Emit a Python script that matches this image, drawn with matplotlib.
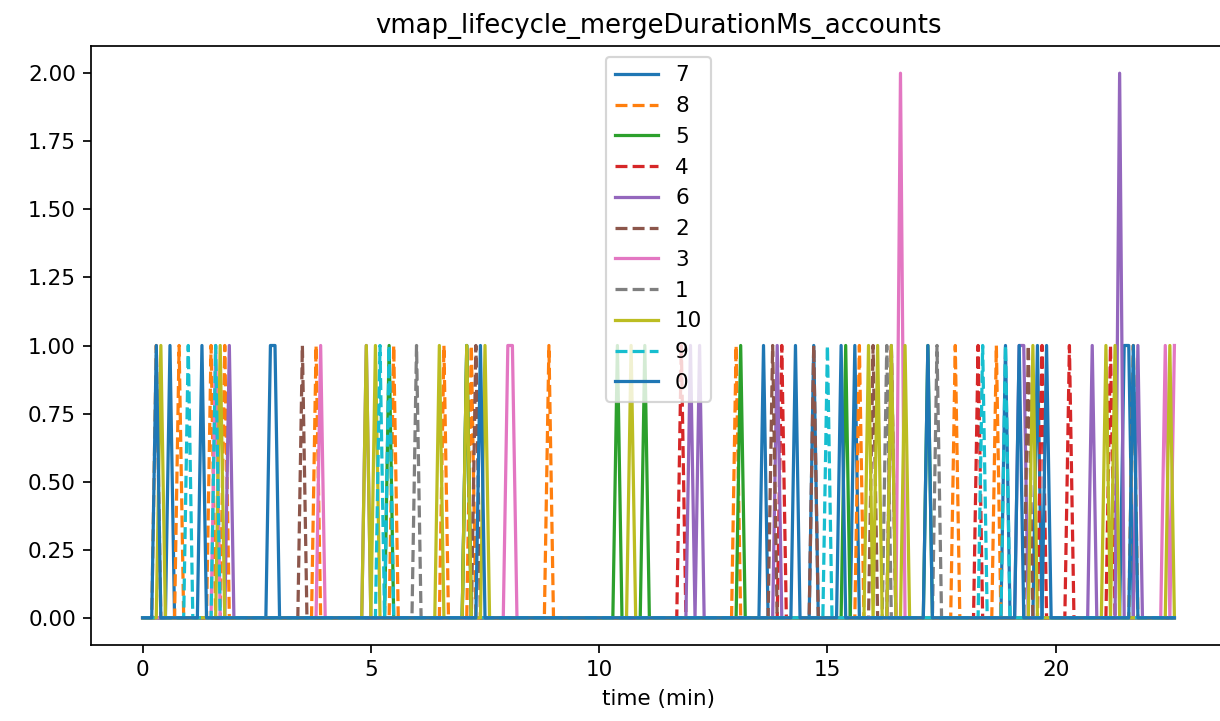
import numpy as np
import matplotlib
matplotlib.use("Agg")
import matplotlib.pyplot as plt

# sample grid (minutes) and spike times, per series
step = 0.1
t_end = 22.6

labels = ['7', '8', '5', '4', '6', '2', '3', '1', '10', '9', '0']

spikes = {
    '7': [0.55, 2.8, 2.9, 7.06, 13.64, 14.67, 15.65, 18.87, 19.64, 21.5, 21.6],
    '8': [0.28, 0.79, 1.49, 1.8, 3.79, 5.5, 6.6, 7.2, 8.88, 13.03, 15.72, 17.83, 18.73, 21.71],
    '5': [5.43, 7.12, 10.42, 11.03, 13.14, 15.43, 17.24],
    '4': [11.82, 14.04, 16.45, 18.33, 19.74, 20.26, 21.23],
    '6': [1.91, 4.94, 12.04, 12.24, 13.93, 16.35, 19.16, 19.34, 20.75, 21.36, 21.84],
    '2': [3.5, 7.32, 13.82, 14.72, 16.01, 19.42],
    '3': [1.56, 3.9, 8.0, 8.1, 16.62, 22.35, 22.6],
    '1': [6.05, 16.3, 17.41],
    '10': [0.37, 1.69, 4.89, 5.09, 6.49, 7.1, 7.48, 10.7, 15.9, 16.1, 16.4, 16.71, 19.52, 21.12, 21.32, 22.52],
    '9': [0.99, 1.6, 5.2, 5.4, 15.02, 18.42, 18.93],
    '0': [0.3, 1.34, 7.37, 14.28, 15.26, 17.17, 19.24, 19.85, 21.69],
}
# spikes that reach 2 instead of 1
peaks = {'6': [21.36], '3': [16.62]}

t = np.round(np.arange(0, t_end + step / 2, step), 2)

dpi = 155
fig = plt.figure(figsize=(1220 / dpi, 721 / dpi), dpi=dpi)
# the right spine sits just past the picture's edge in the reference
plt.subplots_adjust(left=91 / 1220, right=1226 / 1220, top=1 - 46 / 721, bottom=1 - 645 / 721)
ax = plt.gca()

for i, lab in enumerate(labels):
    y = np.zeros(len(t))
    for s in spikes[lab]:
        y[int(round(s / step))] = 1
    for s in peaks.get(lab, []):
        y[int(round(s / step))] = 2
    ls = '-' if i % 2 == 0 else '--'
    ax.plot(t, y, ls, color='C%d' % (i % 10), label=lab)

ax.set_yticks([0, 0.25, 0.5, 0.75, 1.0, 1.25, 1.5, 1.75, 2.0])
ax.set_yticklabels(['%.2f' % v for v in ax.get_yticks()])
ax.set_xlabel('time (min)')
ax.set_title('vmap_lifecycle_mergeDurationMs_accounts')
ax.legend(loc='upper center')

plt.savefig('out.png', dpi=dpi)
